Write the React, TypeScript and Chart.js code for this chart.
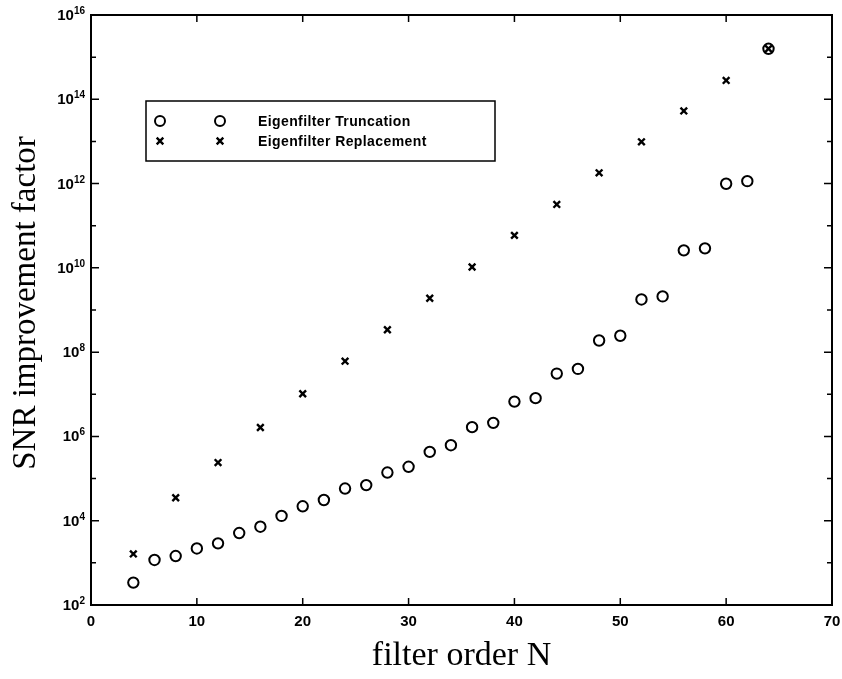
import React, { useEffect, useRef } from "react";
import { Chart, registerables } from "chart.js";

Chart.register(...registerables);

// Filter order N for each series
const truncationN = [4, 6, 8, 10, 12, 14, 16, 18, 20, 22, 24, 26, 28, 30, 32, 34, 36, 38, 40, 42, 44, 46, 48, 50, 52, 54, 56, 58, 60, 62, 64];
const truncationValues = [
  3.4e2, 1.17e3, 1.45e3, 2.2e3, 2.9e3, 5.1e3, 7.2e3, 1.3e4, 2.2e4, 3.1e4,
  5.8e4, 7.0e4, 1.39e5, 1.9e5, 4.3e5, 6.2e5, 1.66e6, 2.1e6, 6.7e6, 8.1e6,
  3.1e7, 4.0e7, 1.89e8, 2.45e8, 1.78e9, 2.1e9, 2.6e10, 2.9e10, 9.9e11, 1.14e12,
  1.58e15,
];
const replacementN = [4, 8, 12, 16, 20, 24, 28, 32, 36, 40, 44, 48, 52, 56, 60, 64];
const replacementValues = [
  1.63e3, 3.5e4, 2.4e5, 1.63e6, 1.03e7, 6.1e7, 3.4e8, 1.9e9, 1.05e10, 5.9e10,
  3.2e11, 1.8e12, 9.8e12, 5.3e13, 2.8e14, 1.58e15,
];

const xTickValues = [0, 10, 20, 30, 40, 50, 60, 70];
const yTickExponents = [2, 4, 6, 8, 10, 12, 14, 16];
const yMinorExponents = [3, 5, 7, 9, 11, 13, 15];

const seriesLabels = ["Eigenfilter Truncation", "Eigenfilter Replacement"];
const xTitle = "filter order N";
const yTitle = "SNR improvement factor";

const SANS = '"Liberation Sans", Arial, Helvetica, sans-serif';
const SERIF = '"Liberation Serif", "Times New Roman", serif';

function drawMarker(ctx: CanvasRenderingContext2D, kind: string, x: number, y: number) {
  ctx.save();
  ctx.strokeStyle = "#000";
  ctx.beginPath();
  if (kind === "circle") {
    ctx.lineWidth = 2;
    ctx.arc(x, y, 5, 0, Math.PI * 2);
  } else {
    ctx.lineWidth = 2.4;
    const r = 3.3;
    ctx.moveTo(x - r, y - r);
    ctx.lineTo(x + r, y + r);
    ctx.moveTo(x + r, y - r);
    ctx.lineTo(x - r, y + r);
  }
  ctx.stroke();
  ctx.restore();
}

const decorPlugin = {
  id: "decor",
  afterDraw(chart: any) {
    const ctx: CanvasRenderingContext2D = chart.ctx;
    const area = chart.chartArea;
    const xs = chart.scales.x;
    const ys = chart.scales.y;
    ctx.save();
    ctx.strokeStyle = "#000";
    ctx.fillStyle = "#000";
    ctx.lineWidth = 2;
    // frame
    ctx.strokeRect(area.left, area.top, area.right - area.left, area.bottom - area.top);

    // x ticks (inward, bottom and top)
    ctx.lineWidth = 1.5;
    ctx.beginPath();
    xTickValues.forEach((v) => {
      const px = xs.getPixelForValue(v);
      ctx.moveTo(px, area.bottom);
      ctx.lineTo(px, area.bottom - 7);
      ctx.moveTo(px, area.top);
      ctx.lineTo(px, area.top + 7);
    });
    // y ticks major and minor (inward, left and right)
    yTickExponents.forEach((e) => {
      const py = ys.getPixelForValue(Math.pow(10, e));
      ctx.moveTo(area.left, py);
      ctx.lineTo(area.left + 8, py);
      ctx.moveTo(area.right, py);
      ctx.lineTo(area.right - 8, py);
    });
    yMinorExponents.forEach((e) => {
      const py = ys.getPixelForValue(Math.pow(10, e));
      ctx.moveTo(area.left, py);
      ctx.lineTo(area.left + 5, py);
      ctx.moveTo(area.right, py);
      ctx.lineTo(area.right - 5, py);
    });
    ctx.stroke();

    // x tick labels
    ctx.font = `bold 15px ${SANS}`;
    ctx.textAlign = "center";
    ctx.textBaseline = "top";
    xTickValues.forEach((v) => {
      const px = xs.getPixelForValue(v);
      ctx.fillText(String(v), px, area.bottom + 9);
    });

    // y tick labels with superscript exponents
    yTickExponents.forEach((e) => {
      const py = ys.getPixelForValue(Math.pow(10, e));
      const exp = String(e);
      ctx.font = `bold 10px ${SANS}`;
      const ew = ctx.measureText(exp).width;
      const expRight = area.left - 6;
      ctx.textAlign = "left";
      ctx.textBaseline = "alphabetic";
      ctx.fillText(exp, expRight - ew, py - 1);
      ctx.font = `bold 15px ${SANS}`;
      ctx.textAlign = "right";
      ctx.fillText("10", expRight - ew, py + 5);
    });

    // axis titles
    ctx.font = `34px ${SERIF}`;
    ctx.textAlign = "center";
    ctx.textBaseline = "alphabetic";
    ctx.fillText(xTitle, (area.left + area.right) / 2, 665);
    ctx.save();
    ctx.font = `33px ${SERIF}`;
    ctx.translate(35, 303);
    ctx.rotate(-Math.PI / 2);
    ctx.fillText(yTitle, 0, 0);
    ctx.restore();

    // legend
    const lx = 146, ly = 101, lw = 349, lh = 60;
    ctx.fillStyle = "#fff";
    ctx.fillRect(lx, ly, lw, lh);
    ctx.strokeStyle = "#000";
    ctx.lineWidth = 1.5;
    ctx.strokeRect(lx, ly, lw, lh);
    const kinds = ["circle", "cross"];
    seriesLabels.forEach((label, i) => {
      const ry = ly + 20 + i * 20;
      drawMarker(ctx, kinds[i], 160, ry);
      drawMarker(ctx, kinds[i], 220, ry);
      ctx.fillStyle = "#000";
      ctx.font = `bold 14px ${SANS}`;
      (ctx as any).letterSpacing = "0.4px";
      ctx.textAlign = "left";
      ctx.textBaseline = "middle";
      ctx.fillText(label, 258, ry + 1);
      (ctx as any).letterSpacing = "0px";
    });
    ctx.restore();
  },
};

export default function App() {
  const canvasRef = useRef<HTMLCanvasElement | null>(null);

  useEffect(() => {
    document.body.style.margin = "0";
    const canvas = canvasRef.current;
    if (!canvas) return;
    const chart = new Chart(canvas, {
      type: "scatter",
      data: {
        datasets: [
          {
            label: seriesLabels[0],
            data: truncationN.map((n, i) => ({ x: n, y: truncationValues[i] })),
            pointStyle: "circle",
            pointRadius: 5.2,
            pointBorderWidth: 2,
            borderColor: "#000",
            backgroundColor: "rgba(0,0,0,0)",
            showLine: false,
          },
          {
            label: seriesLabels[1],
            data: replacementN.map((n, i) => ({ x: n, y: replacementValues[i] })),
            pointStyle: "crossRot",
            pointRadius: 4.7,
            pointBorderWidth: 2.4,
            borderColor: "#000",
            backgroundColor: "#000",
            showLine: false,
          },
        ],
      },
      options: {
        animation: false,
        responsive: true,
        maintainAspectRatio: false,
        layout: { padding: { left: 91, top: 15, right: 10, bottom: 74 } },
        plugins: {
          legend: { display: false },
          tooltip: { enabled: false },
          title: { display: false },
        },
        scales: {
          x: {
            type: "linear",
            min: 0,
            max: 70,
            ticks: { display: false },
            grid: { display: false, drawTicks: false },
            border: { display: false },
          },
          y: {
            type: "logarithmic",
            min: 1e2,
            max: 1e16,
            ticks: { display: false },
            grid: { display: false, drawTicks: false },
            border: { display: false },
          },
        },
      },
      plugins: [decorPlugin],
    });
    return () => chart.destroy();
  }, []);

  return (
    <div style={{ width: 842, height: 679, position: "relative", background: "#fff" }}>
      <canvas ref={canvasRef} />
    </div>
  );
}
